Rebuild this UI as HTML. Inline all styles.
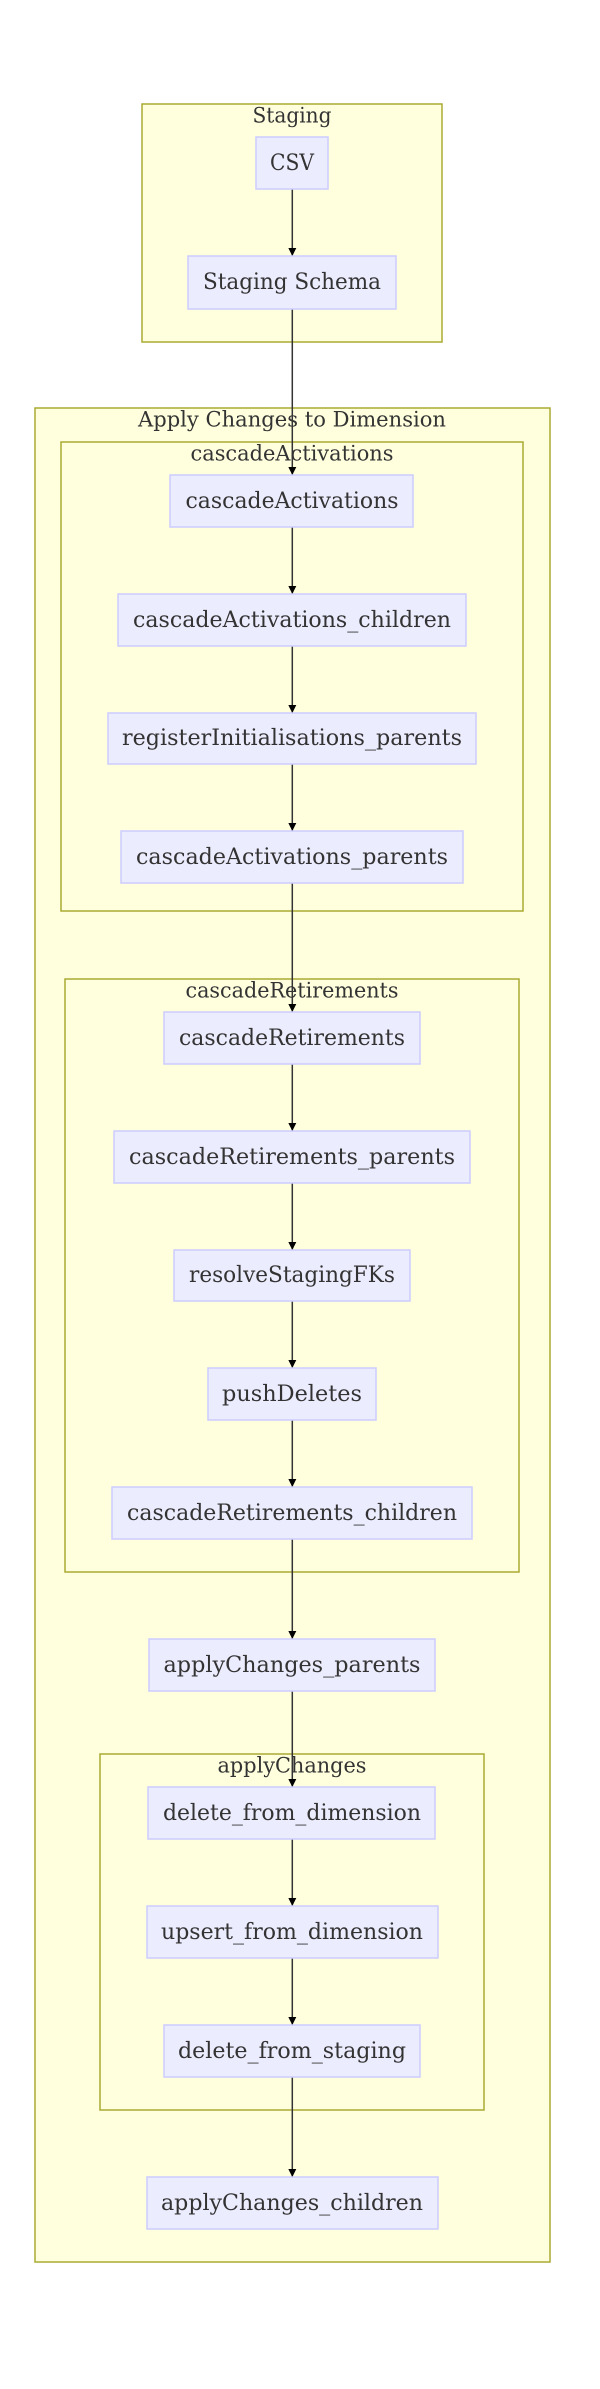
<!DOCTYPE html>
<html><head><meta charset="utf-8"><style>
html,body{margin:0;padding:0;background:#fff;}
svg{display:block;}
text{font-family:"DejaVu Serif","Liberation Serif",serif;fill:#333;}
.n{fill:#ECECFF;stroke:#CCCCFF;stroke-width:1.5;}
.c{fill:#FFFFDE;stroke:#AAAA33;stroke-width:1.5;}
.l{stroke:#333;stroke-width:1.5;fill:none;}
</style></head><body>
<svg width="600" height="2389" viewBox="0 0 600 2389" xmlns="http://www.w3.org/2000/svg">
<defs><marker id="a" viewBox="0 0 10 10" refX="10" refY="5" markerWidth="8" markerHeight="8" markerUnits="userSpaceOnUse" orient="auto"><path d="M0,0L10,5L0,10z" fill="#000"/></marker></defs>
<rect class="c" x="142" y="104" width="300" height="238"/>
<text x="292" y="117" font-size="21" text-anchor="middle" dominant-baseline="middle" textLength="79" lengthAdjust="spacingAndGlyphs">Staging</text>
<rect class="c" x="35" y="408" width="515" height="1854"/>
<text x="292" y="421" font-size="21" text-anchor="middle" dominant-baseline="middle" textLength="308" lengthAdjust="spacingAndGlyphs">Apply Changes to Dimension</text>
<rect class="c" x="61" y="442" width="462" height="469"/>
<text x="292" y="455" font-size="21" text-anchor="middle" dominant-baseline="middle" textLength="203" lengthAdjust="spacingAndGlyphs">cascadeActivations</text>
<rect class="c" x="65" y="979" width="454" height="593"/>
<text x="292" y="992" font-size="21" text-anchor="middle" dominant-baseline="middle" textLength="213" lengthAdjust="spacingAndGlyphs">cascadeRetirements</text>
<rect class="c" x="100" y="1754" width="384" height="356"/>
<text x="292" y="1767" font-size="21" text-anchor="middle" dominant-baseline="middle" textLength="149" lengthAdjust="spacingAndGlyphs">applyChanges</text>
<g class="l" marker-end="url(#a)">
<line x1="292.3" y1="189" x2="292.3" y2="256"/>
<line x1="292.3" y1="309" x2="292.3" y2="475"/>
<line x1="292.3" y1="527" x2="292.3" y2="594"/>
<line x1="292.3" y1="646" x2="292.3" y2="713"/>
<line x1="292.3" y1="764" x2="292.3" y2="831"/>
<line x1="292.3" y1="883" x2="292.3" y2="1012"/>
<line x1="292.3" y1="1064" x2="292.3" y2="1131"/>
<line x1="292.3" y1="1183" x2="292.3" y2="1250"/>
<line x1="292.3" y1="1301" x2="292.3" y2="1368"/>
<line x1="292.3" y1="1420" x2="292.3" y2="1487"/>
<line x1="292.3" y1="1539" x2="292.3" y2="1639"/>
<line x1="292.3" y1="1691" x2="292.3" y2="1787"/>
<line x1="292.3" y1="1839" x2="292.3" y2="1906"/>
<line x1="292.3" y1="1958" x2="292.3" y2="2025"/>
<line x1="292.3" y1="2077" x2="292.3" y2="2177"/>
</g>
<g font-size="22">
<rect class="n" x="256" y="137" width="72" height="52"/>
<text x="292" y="164" text-anchor="middle" dominant-baseline="middle" textLength="44" lengthAdjust="spacingAndGlyphs">CSV</text>
<rect class="n" x="188" y="256" width="208" height="53"/>
<text x="292" y="283" text-anchor="middle" dominant-baseline="middle" textLength="178" lengthAdjust="spacingAndGlyphs">Staging Schema</text>
<rect class="n" x="170" y="475" width="243" height="52"/>
<text x="292" y="502" text-anchor="middle" dominant-baseline="middle" textLength="213" lengthAdjust="spacingAndGlyphs">cascadeActivations</text>
<rect class="n" x="118" y="594" width="348" height="52"/>
<text x="292" y="621" text-anchor="middle" dominant-baseline="middle" textLength="318" lengthAdjust="spacingAndGlyphs">cascadeActivations_children</text>
<rect class="n" x="108" y="713" width="368" height="51"/>
<text x="292" y="739" text-anchor="middle" dominant-baseline="middle" textLength="340" lengthAdjust="spacingAndGlyphs">registerInitialisations_parents</text>
<rect class="n" x="121" y="831" width="342" height="52"/>
<text x="292" y="858" text-anchor="middle" dominant-baseline="middle" textLength="312" lengthAdjust="spacingAndGlyphs">cascadeActivations_parents</text>
<rect class="n" x="164" y="1012" width="256" height="52"/>
<text x="292" y="1039" text-anchor="middle" dominant-baseline="middle" textLength="226" lengthAdjust="spacingAndGlyphs">cascadeRetirements</text>
<rect class="n" x="114" y="1131" width="356" height="52"/>
<text x="292" y="1158" text-anchor="middle" dominant-baseline="middle" textLength="326" lengthAdjust="spacingAndGlyphs">cascadeRetirements_parents</text>
<rect class="n" x="174" y="1250" width="236" height="51"/>
<text x="292" y="1276" text-anchor="middle" dominant-baseline="middle" textLength="206" lengthAdjust="spacingAndGlyphs">resolveStagingFKs</text>
<rect class="n" x="208" y="1368" width="168" height="52"/>
<text x="292" y="1395" text-anchor="middle" dominant-baseline="middle" textLength="140" lengthAdjust="spacingAndGlyphs">pushDeletes</text>
<rect class="n" x="112" y="1487" width="360" height="52"/>
<text x="292" y="1514" text-anchor="middle" dominant-baseline="middle" textLength="330" lengthAdjust="spacingAndGlyphs">cascadeRetirements_children</text>
<rect class="n" x="149" y="1639" width="286" height="52"/>
<text x="292" y="1666" text-anchor="middle" dominant-baseline="middle" textLength="257" lengthAdjust="spacingAndGlyphs">applyChanges_parents</text>
<rect class="n" x="148" y="1787" width="287" height="52"/>
<text x="292" y="1814" text-anchor="middle" dominant-baseline="middle" textLength="258" lengthAdjust="spacingAndGlyphs">delete_from_dimension</text>
<rect class="n" x="147" y="1906" width="291" height="52"/>
<text x="292" y="1933" text-anchor="middle" dominant-baseline="middle" textLength="262" lengthAdjust="spacingAndGlyphs">upsert_from_dimension</text>
<rect class="n" x="164" y="2025" width="256" height="52"/>
<text x="292" y="2052" text-anchor="middle" dominant-baseline="middle" textLength="228" lengthAdjust="spacingAndGlyphs">delete_from_staging</text>
<rect class="n" x="147" y="2177" width="291" height="52"/>
<text x="292" y="2204" text-anchor="middle" dominant-baseline="middle" textLength="262" lengthAdjust="spacingAndGlyphs">applyChanges_children</text>
</g>
</svg>
</body></html>
